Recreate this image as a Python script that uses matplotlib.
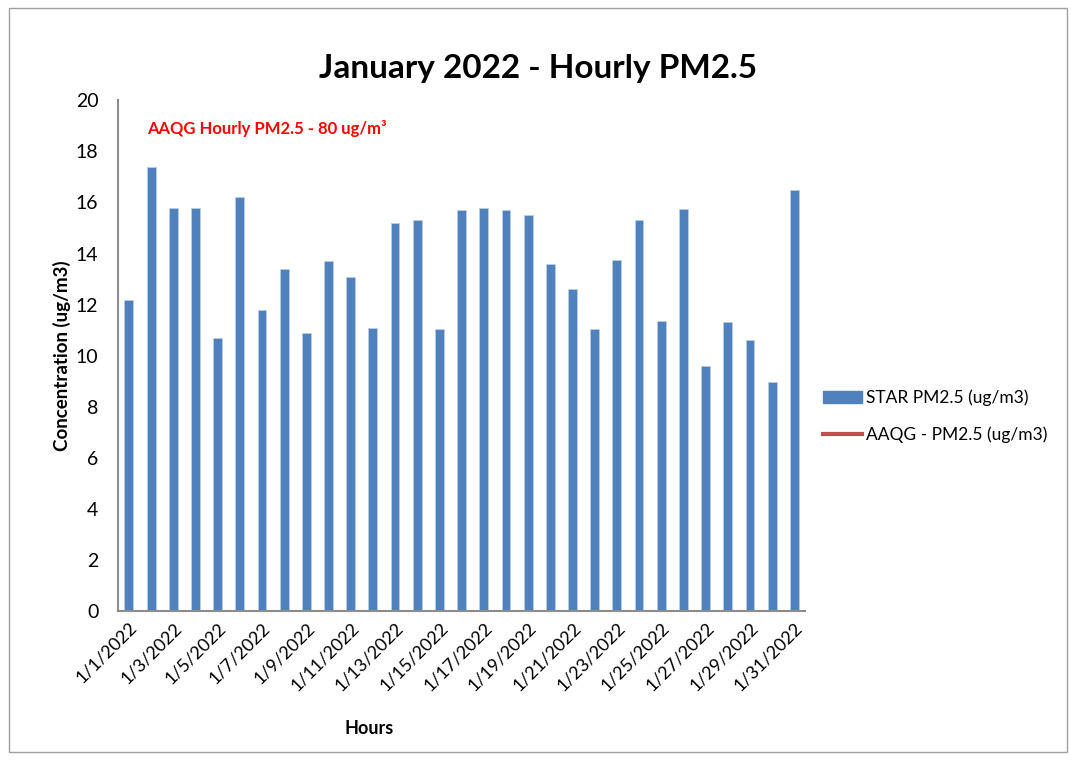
import matplotlib
matplotlib.use("Agg")
import matplotlib.pyplot as plt
from matplotlib.patches import Rectangle, Patch
from matplotlib.lines import Line2D

plt.rcParams['font.family'] = ['Lato', 'DejaVu Sans']

# daily values
days = [f"1/{d}/2022" for d in range(1, 32)]
star_pm25 = [12.2, 17.4, 15.8, 15.8, 10.7, 16.2, 11.8, 13.4, 10.9, 13.7,
             13.1, 11.1, 15.2, 15.3, 11.05, 15.7, 15.8, 15.7, 15.5, 13.6,
             12.6, 11.05, 13.75, 15.3, 11.35, 15.75, 9.6, 11.3, 10.6, 8.95, 16.5]
y_ticks = list(range(0, 21, 2))

bar_color = "#4F81BD"
line_color = "#C0504D"

fig = plt.figure(figsize=(10.71, 7.6), dpi=100)
ax = fig.add_axes([0.110, 0.196, 0.642, 0.672])

x = list(range(len(days)))
ax.bar(x, star_pm25, width=0.4, color=bar_color, edgecolor="#B9CDE5", linewidth=0.6)

ax.set_xlim(-0.5, len(days) - 0.5)
ax.set_ylim(0, 20)
ax.set_yticks(y_ticks)
ax.set_yticklabels([str(t) for t in y_ticks], fontsize=14)
ax.set_xticks(x[::2])
ax.set_xticklabels(days[::2], rotation=45, ha="right", rotation_mode="anchor", fontsize=13)
ax.tick_params(axis="y", length=0, pad=14)
ax.tick_params(axis="x", length=0, pad=6)

for side in ["top", "right"]:
    ax.spines[side].set_visible(False)
for side in ["left", "bottom"]:
    ax.spines[side].set_color("#8C8C8C")
    ax.spines[side].set_linewidth(1.5)

ax.text(0.043, 0.962, "AAQG Hourly PM2.5 - 80 ug/m³", transform=ax.transAxes,
        color="#FF0000", fontsize=12, fontweight="bold", va="top", ha="left")

fig.text(0.502, 0.91, "January 2022 - Hourly PM2.5", ha="center", va="center",
         fontsize=24, fontweight="bold")
fig.text(0.058, 0.532, "Concentration (ug/m3)", rotation=90, ha="center", va="center",
         fontsize=13.5, fontweight="bold")
fig.text(0.345, 0.042, "Hours", ha="center", va="center", fontsize=13, fontweight="bold")

handles = [Patch(facecolor=bar_color, edgecolor=bar_color),
           Line2D([0], [0], color=line_color, linewidth=3)]
fig.legend(handles, ["STAR PM2.5 (ug/m3)", "AAQG - PM2.5 (ug/m3)"],
           loc="center left", bbox_to_anchor=(0.768, 0.452), frameon=False,
           borderpad=0, borderaxespad=0,
           fontsize=12.5, handlelength=2.3, handleheight=0.75, labelspacing=1.2,
           handletextpad=0.2)

fig.patches.append(Rectangle((0.008, 0.01), 0.988, 0.98, transform=fig.transFigure,
                             fill=False, edgecolor="#A0A0A0", linewidth=1))

fig.savefig("out.png", dpi=100)
